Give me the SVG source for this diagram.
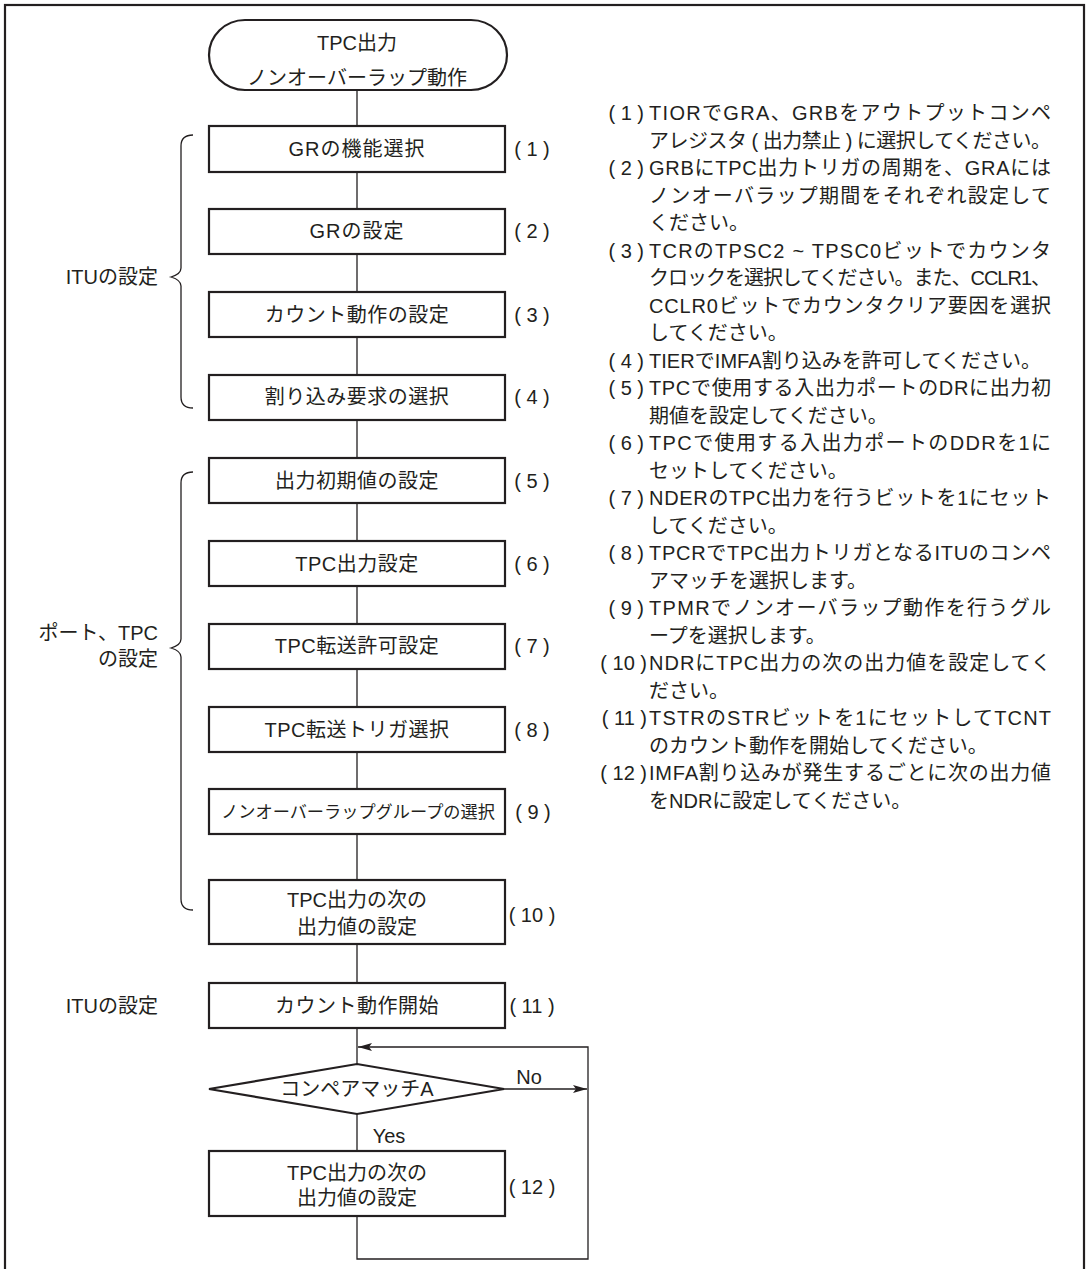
<svg xmlns="http://www.w3.org/2000/svg" width="1088" height="1269" viewBox="0 0 1088 1269">
<defs>
<style>
text{font-family:"Liberation Sans","Noto Sans CJK JP",sans-serif;font-size:20px;fill:#231f20}
.c{text-anchor:middle}
.e{text-anchor:end}
.box{fill:#fff;stroke:#231f20;stroke-width:2.2}
.ln{fill:none;stroke:#231f20;stroke-width:1.3}
.br{fill:none;stroke:#231f20;stroke-width:1.3}
</style>
<marker id="ah" viewBox="0 0 14 8" refX="14" refY="4" markerWidth="14" markerHeight="8" markerUnits="userSpaceOnUse" orient="auto">
<path d="M0,0 L14,4 L0,8 L3,4 Z" fill="#231f20"/>
</marker>
</defs>
<rect x="0" y="0" width="1088" height="1269" fill="#fff"/>
<rect x="5" y="5" width="1079" height="1266" fill="none" stroke="#231f20" stroke-width="2.2"/>

<g id="connectors">
<path class="ln" d="M357,90V126 M357,172V209 M357,254V292 M357,337V375 M357,420V458 M357,503V541 M357,586V624 M357,669V707 M357,752V789 M357,834V880 M357,944V983 M357,1028V1064 M357,1114V1151"/>
<path class="ln" d="M357,1216V1259H588V1047H358" marker-end="url(#ah)"/>
<path class="ln" d="M504,1089H587" marker-end="url(#ah)"/>
<text x="529" y="1084" class="c">No</text>
<text x="389" y="1143" class="c">Yes</text>
</g>

<g id="brace1">
<path class="br" d="M193,135 Q181,135 181,146 V268 Q181,274 171,277 Q181,280 181,286 V397 Q181,408 193,408"/>
<text x="158" y="284" class="e">ITUの設定</text>
</g>
<g id="brace2">
<path class="br" d="M193,472 Q181,472 181,483 V639 Q181,645 171,648 Q181,651 181,657 V899 Q181,910 193,910"/>
<text x="158" y="640" class="e">ポート、TPC</text>
<text x="158" y="666" class="e">の設定</text>
</g>
<g id="label-itu2">
<text x="158" y="1013" class="e">ITUの設定</text>
</g>

<g id="start">
<rect class="box" x="209" y="20" width="298" height="70" rx="36" ry="35"/>
<text x="357" y="50" class="c">TPC出力</text>
<text x="357" y="85" class="c">ノンオーバーラップ動作</text>
</g>

<g id="n1"><rect class="box" x="209" y="126" width="296" height="46"/><text x="357" y="156" class="c" letter-spacing="1">GRの機能選択</text><text x="532" y="156" class="c">( 1 )</text></g>
<g id="n2"><rect class="box" x="209" y="209" width="296" height="45"/><text x="357" y="238" class="c" letter-spacing="1">GRの設定</text><text x="532" y="238" class="c">( 2 )</text></g>
<g id="n3"><rect class="box" x="209" y="292" width="296" height="45"/><text x="357" y="322" class="c" letter-spacing="0.5">カウント動作の設定</text><text x="532" y="322" class="c">( 3 )</text></g>
<g id="n4"><rect class="box" x="209" y="375" width="296" height="45"/><text x="357" y="404" class="c" letter-spacing="0.5">割り込み要求の選択</text><text x="532" y="404" class="c">( 4 )</text></g>
<g id="n5"><rect class="box" x="209" y="458" width="296" height="45"/><text x="357" y="488" class="c" letter-spacing="0.5">出力初期値の設定</text><text x="532" y="488" class="c">( 5 )</text></g>
<g id="n6"><rect class="box" x="209" y="541" width="296" height="45"/><text x="357" y="571" class="c" letter-spacing="0.5">TPC出力設定</text><text x="532" y="571" class="c">( 6 )</text></g>
<g id="n7"><rect class="box" x="209" y="624" width="296" height="45"/><text x="357" y="653" class="c" letter-spacing="0.5">TPC転送許可設定</text><text x="532" y="653" class="c">( 7 )</text></g>
<g id="n8"><rect class="box" x="209" y="707" width="296" height="45"/><text x="357" y="737" class="c" letter-spacing="0.5">TPC転送トリガ選択</text><text x="532" y="737" class="c">( 8 )</text></g>
<g id="n9"><rect class="box" x="209" y="789" width="296" height="45"/><text x="358" y="818" class="c" style="font-size:17.2px">ノンオーバーラップグループの選択</text><text x="533" y="819" class="c">( 9 )</text></g>
<g id="n10"><rect class="box" x="209" y="880" width="296" height="64"/><text x="357" y="907" class="c">TPC出力の次の</text><text x="357" y="934" class="c">出力値の設定</text><text x="532" y="922" class="c">( 10 )</text></g>
<g id="n11"><rect class="box" x="209" y="983" width="296" height="45"/><text x="357" y="1013" class="c" letter-spacing="0.5">カウント動作開始</text><text x="532" y="1013" class="c">( 11 )</text></g>
<g id="decision"><path class="box" d="M209,1089 L357,1064 L504,1089 L357,1114 Z"/><text x="357" y="1096" class="c">コンペアマッチA</text></g>
<g id="n12"><rect class="box" x="209" y="1151" width="296" height="65"/><text x="357" y="1180" class="c">TPC出力の次の</text><text x="357" y="1205" class="c">出力値の設定</text><text x="532" y="1194" class="c">( 12 )</text></g>

<g id="notes">
<text x="644" y="120" class="e">( 1 )</text><text x="649" y="120" textLength="402" lengthAdjust="spacing">TIORでGRA、GRBをアウトプットコンペ</text>
<text x="649" y="147.5" textLength="402" lengthAdjust="spacing">アレジスタ ( 出力禁止 ) に選択してください。</text>
<text x="644" y="175" class="e">( 2 )</text><text x="649" y="175" textLength="402" lengthAdjust="spacing">GRBにTPC出力トリガの周期を、GRAには</text>
<text x="649" y="202.5" textLength="402" lengthAdjust="spacing">ノンオーバラップ期間をそれぞれ設定して</text>
<text x="649" y="230">ください。</text>
<text x="644" y="257.5" class="e">( 3 )</text><text x="649" y="257.5" textLength="402" lengthAdjust="spacing">TCRのTPSC2 ~ TPSC0ビットでカウンタ</text>
<text x="649" y="285" textLength="402" lengthAdjust="spacing">クロックを選択してください。また、CCLR1、</text>
<text x="649" y="312.5" textLength="402" lengthAdjust="spacing">CCLR0ビットでカウンタクリア要因を選択</text>
<text x="649" y="340">してください。</text>
<text x="644" y="367.5" class="e">( 4 )</text><text x="649" y="367.5" textLength="392" lengthAdjust="spacing">TIERでIMFA割り込みを許可してください。</text>
<text x="644" y="395" class="e">( 5 )</text><text x="649" y="395" textLength="402" lengthAdjust="spacing">TPCで使用する入出力ポートのDRに出力初</text>
<text x="649" y="422.5">期値を設定してください。</text>
<text x="644" y="450" class="e">( 6 )</text><text x="649" y="450" textLength="402" lengthAdjust="spacing">TPCで使用する入出力ポートのDDRを1に</text>
<text x="649" y="477.5">セットしてください。</text>
<text x="644" y="505" class="e">( 7 )</text><text x="649" y="505" textLength="402" lengthAdjust="spacing">NDERのTPC出力を行うビットを1にセット</text>
<text x="649" y="532.5">してください。</text>
<text x="644" y="560" class="e">( 8 )</text><text x="649" y="560" textLength="402" lengthAdjust="spacing">TPCRでTPC出力トリガとなるITUのコンペ</text>
<text x="649" y="587.5">アマッチを選択します。</text>
<text x="644" y="615" class="e">( 9 )</text><text x="649" y="615" textLength="402" lengthAdjust="spacing">TPMRでノンオーバラップ動作を行うグル</text>
<text x="649" y="642.5">ープを選択します。</text>
<text x="647" y="670" class="e">( 10 )</text><text x="649" y="670" textLength="402" lengthAdjust="spacing">NDRにTPC出力の次の出力値を設定してく</text>
<text x="649" y="697.5">ださい。</text>
<text x="647" y="725" class="e">( 11 )</text><text x="649" y="725" textLength="402" lengthAdjust="spacing">TSTRのSTRビットを1にセットしてTCNT</text>
<text x="649" y="752.5">のカウント動作を開始してください。</text>
<text x="647" y="780" class="e">( 12 )</text><text x="649" y="780" textLength="402" lengthAdjust="spacing">IMFA割り込みが発生するごとに次の出力値</text>
<text x="649" y="807.5">をNDRに設定してください。</text>
</g>
</svg>
